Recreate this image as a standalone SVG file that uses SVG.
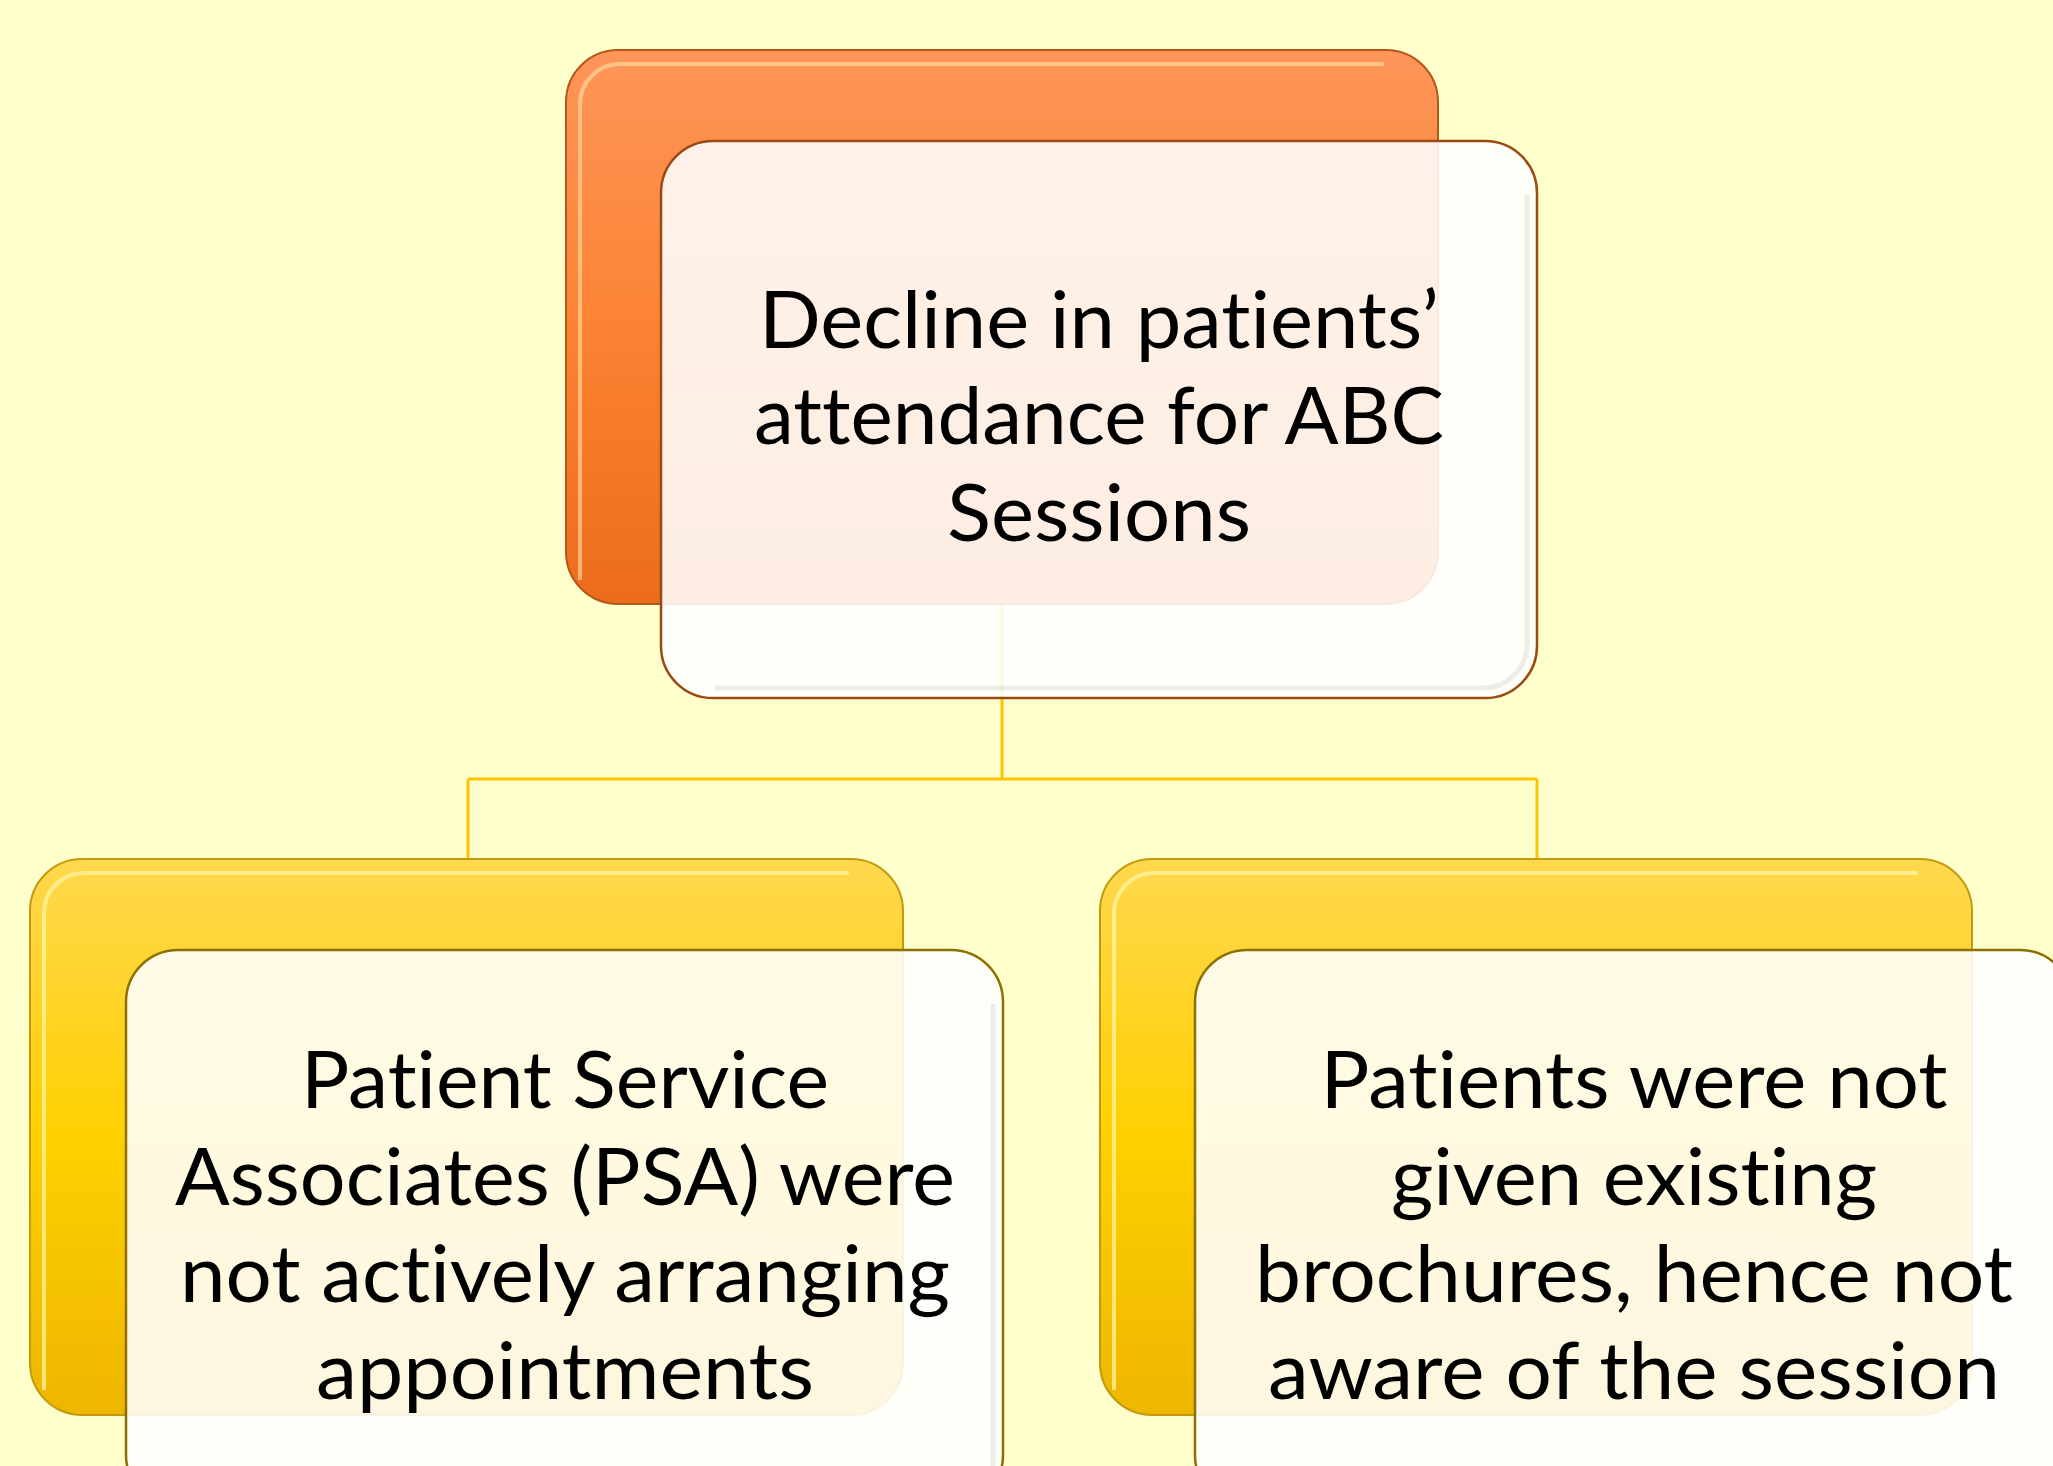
<svg xmlns="http://www.w3.org/2000/svg" width="2053" height="1466" viewBox="0 0 2053 1466">
<defs>
<linearGradient id="gOrange" x1="0" y1="0" x2="0" y2="1">
<stop offset="0" stop-color="#FE9559"/>
<stop offset="0.5" stop-color="#FB8333"/>
<stop offset="1" stop-color="#EB6C1C"/>
</linearGradient>
<linearGradient id="gYellow" x1="0" y1="0" x2="0" y2="1">
<stop offset="0" stop-color="#FFD84F"/>
<stop offset="0.5" stop-color="#FFD000"/>
<stop offset="1" stop-color="#EDB600"/>
</linearGradient>
</defs>
<style>
.txt{font-family:Lato,"Open Sans","Liberation Sans",sans-serif;font-size:79px;fill:#000;text-anchor:middle;font-variant-ligatures:none;font-feature-settings:"liga" 0,"clig" 0}
.backO{fill:url(#gOrange);stroke:#B5561A;stroke-width:2}
.backY{fill:url(#gYellow);stroke:#C29A10;stroke-width:2}
.hiO{fill:none;stroke:#FFE9B0;stroke-opacity:0.55;stroke-width:4}
.hiY{fill:none;stroke:#FFF6A8;stroke-opacity:0.7;stroke-width:4}
.frontO{fill:#FFFFFF;fill-opacity:0.88;stroke:#9B4A14;stroke-width:2.5}
.frontY{fill:#FFFFFF;fill-opacity:0.88;stroke:#8C7000;stroke-width:2.5}
.sh{fill:none;stroke:#000;stroke-opacity:0.07;stroke-width:5}
.conn{fill:none;stroke:#FFC400;stroke-width:3}
</style>
<rect width="2053" height="1466" fill="#FFFFCC"/>
<g id="connectors">
<path class="conn" d="M1002,604 V779"/>
<path class="conn" d="M468,779 H1537"/>
<path class="conn" d="M468,779 V860"/>
<path class="conn" stroke-width="2" d="M1537,779 V860"/>
</g>
<g id="node-top">
<rect class="backO" x="566" y="50" width="872" height="554" rx="52"/>
<path class="hiO" d="M580,580 V104 A40,40 0 0 1 620,64 H1384"/>
<rect class="frontO" x="661" y="141" width="876" height="557" rx="52"/>
<path class="sh" d="M1527,195 V644 A44,44 0 0 1 1483,688 H715"/>
<text class="txt" x="1099" y="348" textLength="680" lengthAdjust="spacingAndGlyphs">Decline in patients’</text>
<text class="txt" x="1099" y="444" textLength="690" lengthAdjust="spacingAndGlyphs">attendance for ABC</text>
<text class="txt" x="1099" y="541" textLength="304" lengthAdjust="spacingAndGlyphs">Sessions</text>
</g>
<g id="node-left">
<rect class="backY" x="30" y="859" width="873" height="556" rx="52"/>
<path class="hiY" d="M44,1390 V913 A40,40 0 0 1 84,873 H849"/>
<rect class="frontY" x="126" y="950" width="877" height="557" rx="52"/>
<path class="sh" d="M993,1004 V1466"/>
<text class="txt" x="565" y="1108" textLength="528" lengthAdjust="spacingAndGlyphs">Patient Service</text>
<text class="txt" x="565" y="1205" textLength="780" lengthAdjust="spacingAndGlyphs">Associates (PSA) were</text>
<text class="txt" x="565" y="1302" textLength="770" lengthAdjust="spacingAndGlyphs">not actively arranging</text>
<text class="txt" x="565" y="1399" textLength="498" lengthAdjust="spacingAndGlyphs">appointments</text>
</g>
<g id="node-right">
<rect class="backY" x="1100" y="859" width="872" height="556" rx="52"/>
<path class="hiY" d="M1114,1390 V913 A40,40 0 0 1 1154,873 H1918"/>
<rect class="frontY" x="1195" y="950" width="877" height="557" rx="52"/>
<text class="txt" x="1634" y="1108" textLength="627" lengthAdjust="spacingAndGlyphs">Patients were not</text>
<text class="txt" x="1634" y="1205" textLength="486" lengthAdjust="spacingAndGlyphs">given existing</text>
<text class="txt" x="1634" y="1302" textLength="758" lengthAdjust="spacingAndGlyphs">brochures, hence not</text>
<text class="txt" x="1634" y="1399" textLength="732" lengthAdjust="spacingAndGlyphs">aware of the session</text>
</g>
</svg>
